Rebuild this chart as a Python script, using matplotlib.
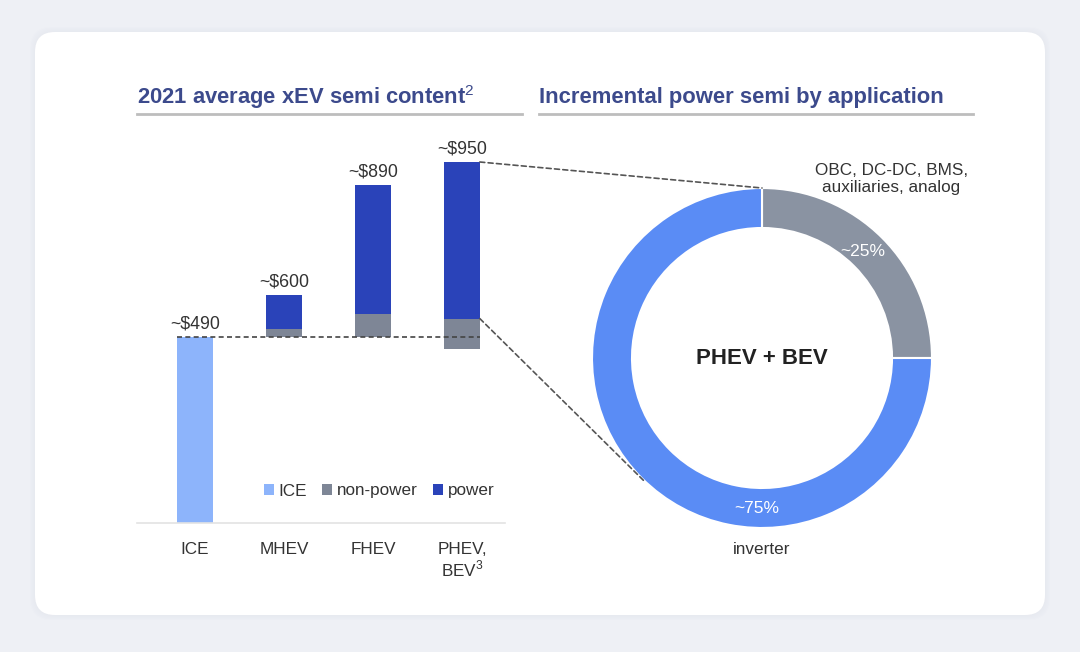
import matplotlib.pyplot as plt
from matplotlib.patches import FancyBboxPatch, ConnectionPatch

plt.rcParams['font.family'] = ['Liberation Sans', 'DejaVu Sans']
plt.rcParams['mathtext.fontset'] = 'custom'
plt.rcParams['mathtext.rm'] = 'Liberation Sans'

# semi content per vehicle type ($)
categories = ['ICE', 'MHEV', 'FHEV', 'PHEV,\nBEV$^3$']
totals = [490, 600, 890, 950]
value_labels = ['~$490', '~$600', '~$890', '~$950']
ice_value = 490
nonpower_bottom = [0, 490, 490, 458]
nonpower_top = [0, 511, 551, 538]
power_top = [0, 600, 890, 950]

# incremental power semi split (%)
app_labels = ['OBC, DC-DC, BMS,\nauxiliaries, analog', 'inverter']
app_share = [25, 75]

c_ice = '#8db4fb'
c_nonpower = '#7e8696'
c_power = '#2a43b9'
c_donut = ['#8a93a2', '#5a8cf5']
c_title = '#3c4a8c'
c_text = '#333333'

W, H = 1080, 652
fig = plt.figure(figsize=(W / 100, H / 100), dpi=100)
fig.patch.set_facecolor('#eef0f5')


def fx(px):
	return px / W


def fy(py):
	return 1 - py / H


# card background
bg = fig.add_axes([0, 0, 1, 1])
bg.set_xlim(0, W)
bg.set_ylim(H, 0)
bg.axis('off')
for k in range(6):
	bg.add_patch(FancyBboxPatch((35 - k, 32 - k), 1010 + 2 * k, 583 + 2 * k,
								boxstyle='round,pad=0,rounding_size=22',
								facecolor='#dfe2ea', edgecolor='none', alpha=0.08))
bg.add_patch(FancyBboxPatch((35, 32), 1010, 583, boxstyle='round,pad=0,rounding_size=20',
							facecolor='white', edgecolor='none'))

# titles
bg.text(137, 97, '2021 average xEV semi content$^2$', fontsize=15.8, fontweight='bold',
		color=c_title, va='center', ha='left')
bg.text(539, 97, 'Incremental power semi by application', fontsize=15.8, fontweight='bold',
		color=c_title, va='center', ha='left')
bg.plot([137, 522], [114, 114], color='#bdbdbd', lw=2)
bg.plot([539, 973], [114, 114], color='#bdbdbd', lw=2)

# bar chart
scale = 950 / (523 - 162)
ax = fig.add_axes([fx(137), fy(523), fx(505 - 137), (523 - 130) / H])
ax.set_xlim(-58 / 89, (505 - 195) / 89)
ax.set_ylim(0, (523 - 130) * scale)
w = 0.40
x = list(range(len(categories)))
ax.bar(x[0], ice_value, width=w, color=c_ice, label='ICE')
ax.bar(x[1:], [t - b for t, b in zip(nonpower_top[1:], nonpower_bottom[1:])],
	   bottom=nonpower_bottom[1:], width=w, color=c_nonpower, label='non-power')
ax.bar(x[1:], [t - b for t, b in zip(power_top[1:], nonpower_top[1:])],
	   bottom=nonpower_top[1:], width=w, color=c_power, label='power')
ax.hlines(ice_value, x[0] - w / 2, x[-1] + w / 2, colors='#444444', linestyles=(0, (3, 2)), lw=1.2)
for i, (t, lab) in enumerate(zip(totals, value_labels)):
	ax.text(i, t + 12, lab, ha='center', va='bottom', fontsize=12.8, color=c_text)

for s in ['top', 'right', 'left']:
	ax.spines[s].set_visible(False)
ax.spines['bottom'].set_color('#e3e3e3')
ax.spines['bottom'].set_linewidth(1.2)
ax.set_yticks([])
ax.set_xticks(x)
ax.set_xticklabels(categories, fontsize=12.3, color=c_text, va='top', linespacing=1.05)
ax.tick_params(axis='x', length=0, pad=14)
ax.legend(ncol=3, loc='center', bbox_to_anchor=((379 - 137) / 368, (523 - 491) / 393),
		  frameon=False, fontsize=12.3, handlelength=0.6, handleheight=0.6,
		  handletextpad=0.25, columnspacing=0.9, labelcolor=c_text)

# donut
cx, cy, r = 762, 358, 170
pax = fig.add_axes([fx(cx - r), fy(cy + r), 2 * r / W, 2 * r / H])
wedges, _ = pax.pie(app_share, colors=c_donut, startangle=90, counterclock=False,
					wedgeprops=dict(width=40 / r, edgecolor='white', linewidth=1.5))
pax.set_xlim(-1, 1)
pax.set_ylim(-1, 1)
pax.set_aspect('auto')
pax.text(0, 0, 'PHEV + BEV', ha='center', va='center', fontsize=16, fontweight='bold', color='#222222')
pax.text(0.59, 0.625, f'~{app_share[0]}%', ha='center', va='center', fontsize=12.5, color='white')
pax.text(-0.03, -0.885, f'~{app_share[1]}%', ha='center', va='center', fontsize=12.5, color='white')
pax.text(0.76, 1.055, app_labels[0], ha='center', va='center', fontsize=12.3, color=c_text,
		 linespacing=1.15)
pax.text(0, -1.125, app_labels[1], ha='center', va='center', fontsize=12.3, color=c_text)

# dashed connectors from PHEV bar to donut
for ya, xyb in [(power_top[3], (0, 1)), (nonpower_top[3], (-0.688, -0.729))]:
	con = ConnectionPatch(xyA=(x[3] + w / 2, ya), coordsA=ax.transData,
						  xyB=xyb, coordsB=pax.transData,
						  color='#555555', lw=1.2, linestyle=(0, (3, 2)))
	fig.add_artist(con)

fig.savefig('out.png', dpi=100, facecolor=fig.get_facecolor())
